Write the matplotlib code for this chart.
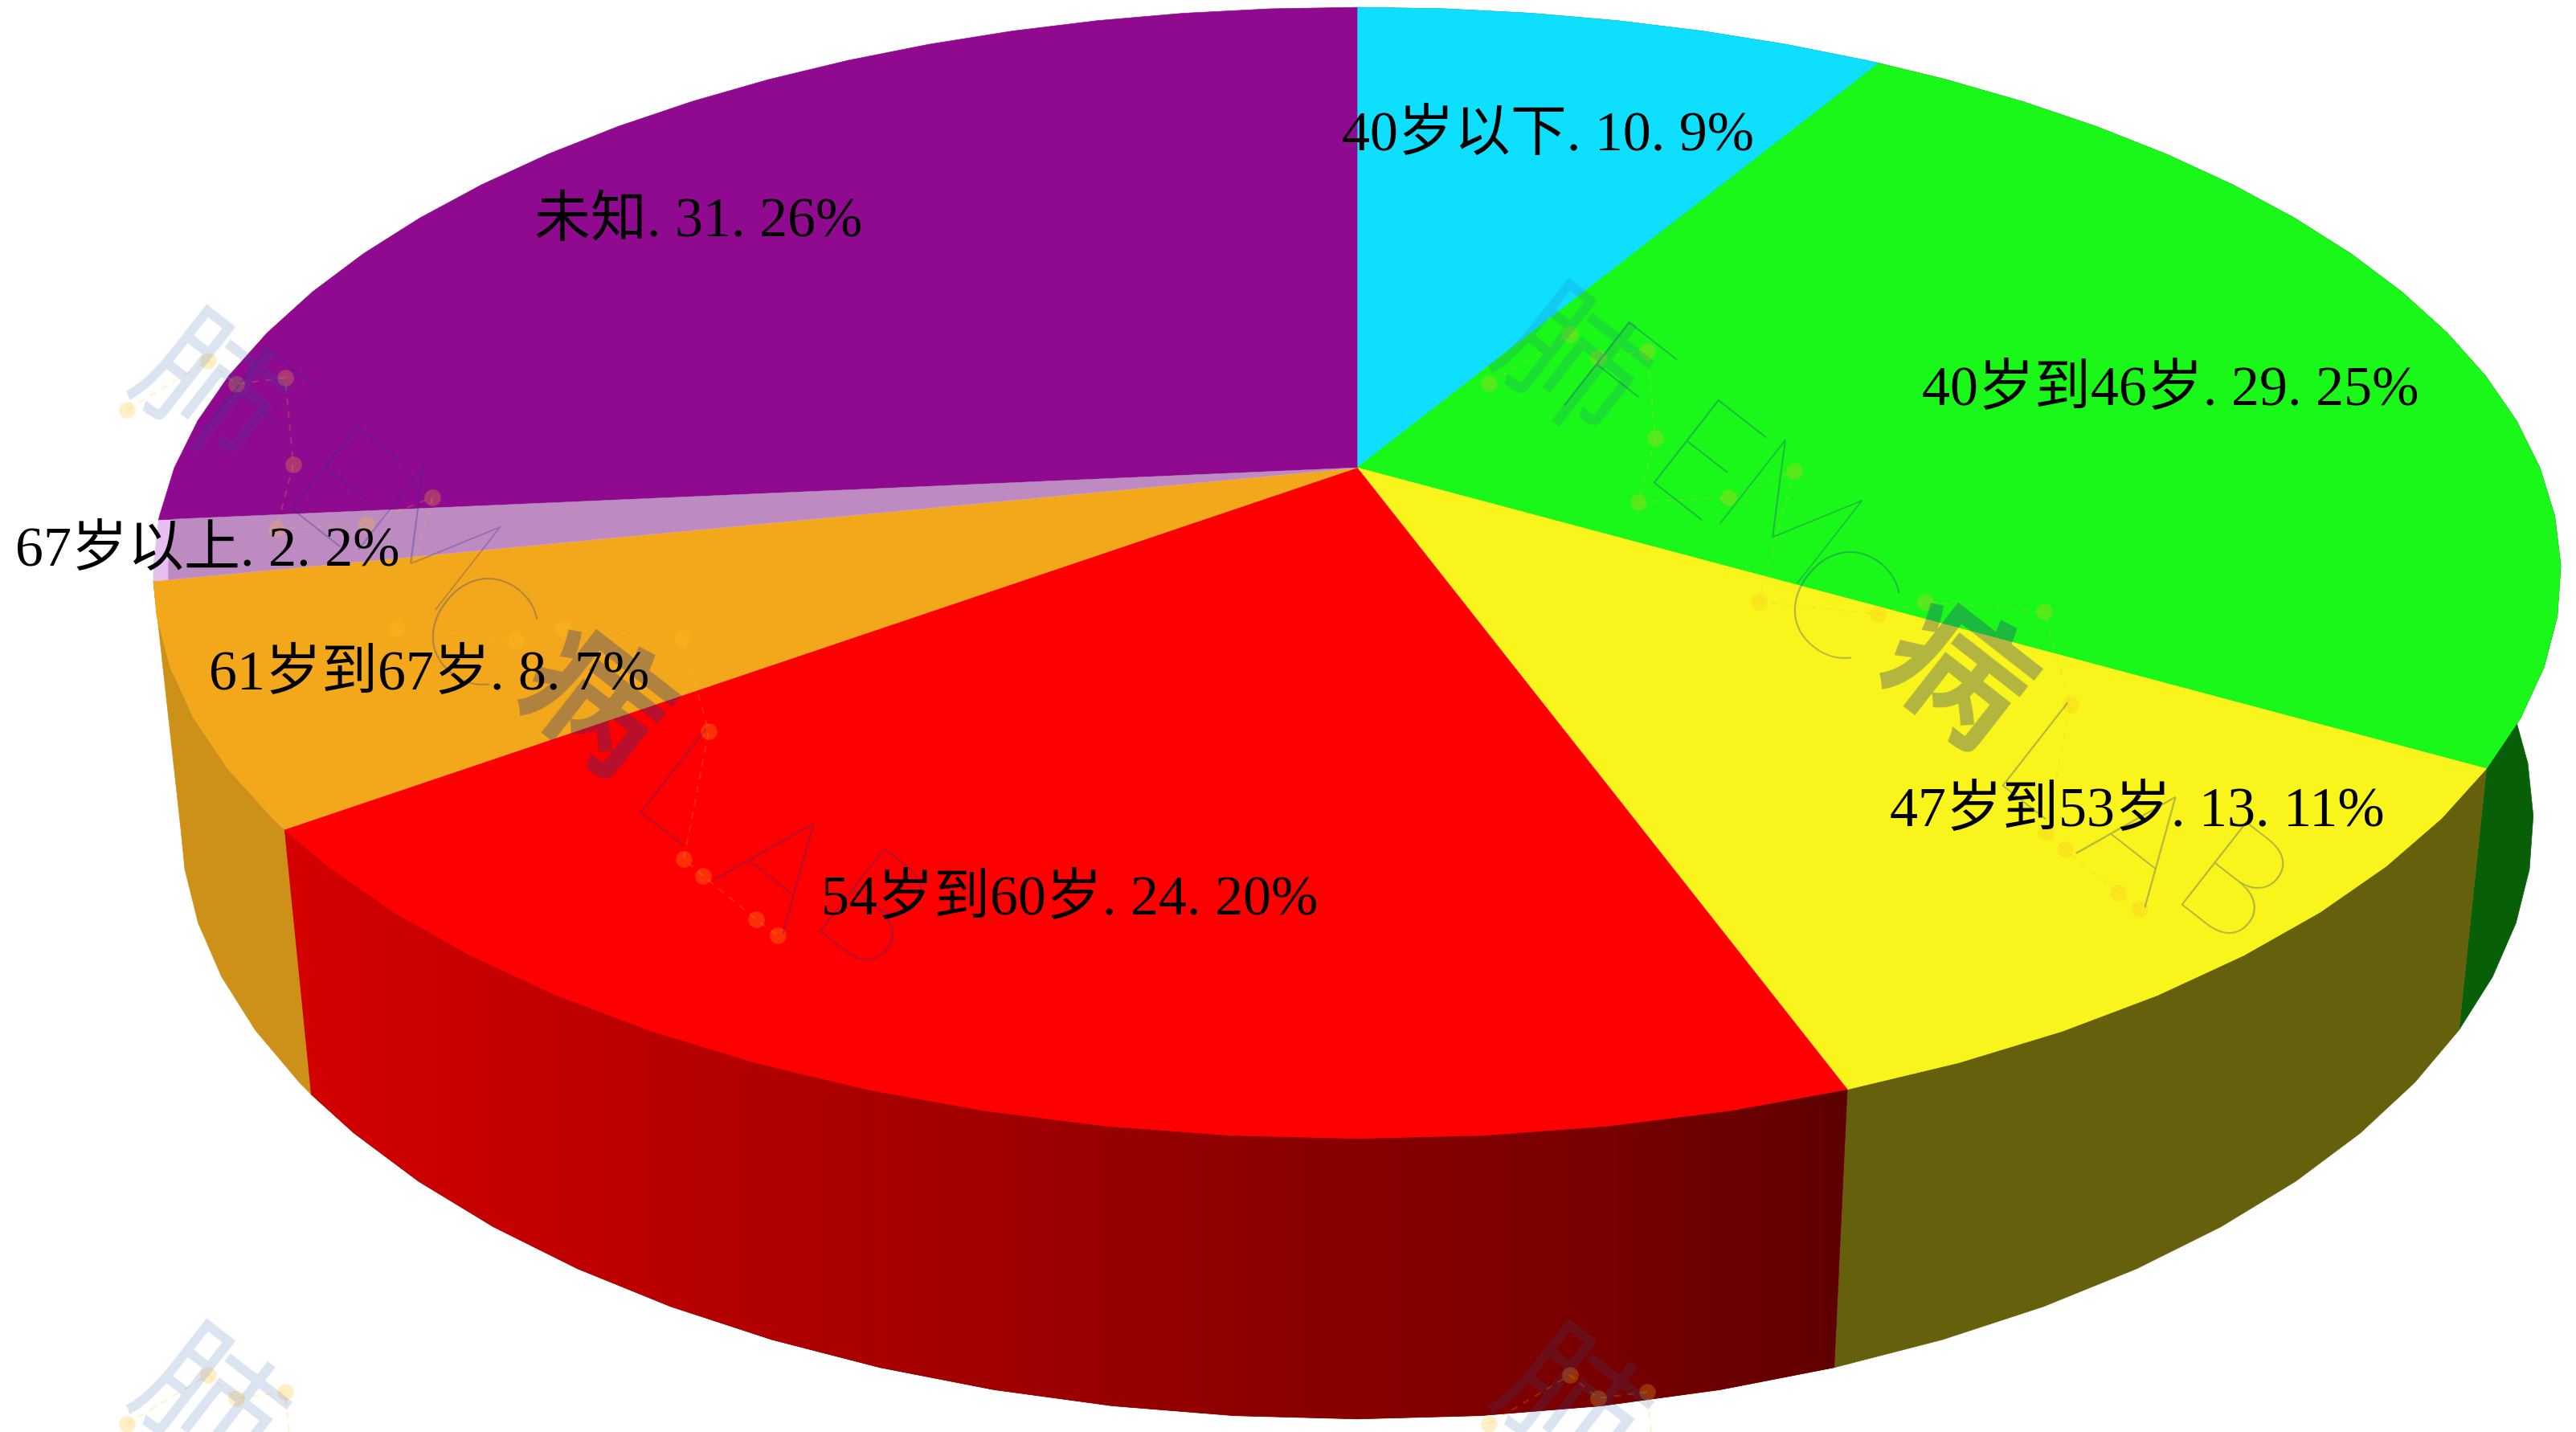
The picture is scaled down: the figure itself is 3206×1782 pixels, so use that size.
import numpy as np
import matplotlib
matplotlib.use("Agg")
import matplotlib.pyplot as plt
from matplotlib.patches import Polygon

# Slices, clockwise from 12 o'clock
categories = ["40岁以下", "40岁到46岁", "47岁到53岁", "54岁到60岁", "61岁到67岁", "67岁以上", "未知"]
counts = [10, 29, 13, 24, 8, 2, 31]
percents = [9, 25, 11, 20, 7, 2, 26]
top_colors = ["#0FDFFF", "#1AF81A", "#F8F41C", "#FF0000", "#F3A81C", "#BD8AC2", "#900A90"]
side_colors = ["#066070", "#085F08", "#65600C", "#8C0000", "#CD9119", None, None]
label_x = [1926, 2701, 2660, 1331, 534, 258, 869]
label_y = [169, 487, 1011, 1121, 841, 686, 277]

# Shading of the red wall along the screen x
red_x = [380, 1100, 1600, 2000, 2200, 2300]
red_v = [212, 168, 140, 120, 105, 92]

# Perspective of the disc (fitted to the picture)
CX, CY = 1689, 583
SX, SY, K = 1472, -571, 0.186
EXTRUDE = 0.02265
VX, VY = 1689, 14312
FACET = 5.0

# Watermark, offsets from its first dot
wm_tiles = [(158, 511), (1853, 478), (158, 1773), (1853, 1773)]
wm_glyphs = ["肺", "F", "E", "M", "C", "病", "L", "A", "B"]
wm_glyph_x = [95, 143, 256, 361, 424, 578, 684, 803, 915]
wm_glyph_y = [-15, 17, 115, 183, 287, 367, 488, 580, 643]
wm_dot_x = [0, 101, 136, 197, 207, 186, 298, 380, 336, 484, 543, 691, 724, 693, 717, 783, 810]
wm_dot_y = [0, -61, -32, -40, 68, 148, 142, 109, 272, 287, 272, 284, 400, 559, 580, 634, 654]


def project(deg, radius=1.0, bottom=False):
    th = np.radians(deg)
    x, y = radius * np.sin(th), radius * np.cos(th)
    w = 1 + K * y
    hx = CX * w + SX * x
    hy = CY + SY * y
    if bottom:
        hx = hx + EXTRUDE * VX
        hy = hy + EXTRUDE * VY
        w = w + EXTRUDE
    return np.column_stack([hx / w, hy / w])


def arc_angles(a0, a1):
    inner = np.arange(np.ceil(a0 / FACET) * FACET, a1, FACET)
    return np.unique(np.concatenate([[a0], inner, [a1]]))


fig = plt.figure(figsize=(32.06, 17.83), dpi=100)
ax = fig.add_axes([0, 0, 1, 1])
ax.set_xlim(0, 3206)
ax.set_ylim(1783, 0)
ax.axis("off")

edges = np.concatenate([[0], np.cumsum(counts)]) / np.sum(counts) * 360

# Walls first, the top covers whatever is behind
for i in range(len(counts)):
    if side_colors[i] is None:
        continue
    ang = arc_angles(edges[i], edges[i + 1])
    wall = np.vstack([project(ang), project(ang, bottom=True)[::-1]])
    patch = Polygon(wall, closed=True, fc=side_colors[i], ec=side_colors[i], lw=0.5, zorder=1)
    ax.add_patch(patch)
    if categories[i] == "54岁到60岁":
        xs = np.arange(300, 2400)
        grad = np.zeros((1, len(xs), 3))
        grad[0, :, 0] = np.interp(xs, red_x, red_v) / 255
        im = ax.imshow(grad, extent=[300, 2400, 1783, 0], aspect="auto", zorder=1.5)
        im.set_clip_path(patch)
ax.set_xlim(0, 3206)
ax.set_ylim(1783, 0)

# Top of the disc
for i in range(len(counts)):
    ang = arc_angles(edges[i], edges[i + 1])
    color = top_colors[i]
    if categories[i] == "67岁以上":
        # the see-through slice is paler where nothing lies behind it
        pts = np.vstack([[CX, CY], project(ang)])
        ax.add_patch(Polygon(pts, closed=True, fc="#E6BEF0", ec="#E6BEF0", lw=0.5, zorder=2))
        pts = np.vstack([[CX, CY], project(ang, radius=0.988)])
        ax.add_patch(Polygon(pts, closed=True, fc=color, ec=color, lw=0.3, zorder=2.1))
    else:
        pts = np.vstack([[CX, CY], project(ang)])
        ax.add_patch(Polygon(pts, closed=True, fc=color, ec=color, lw=0.5, zorder=2))

# Watermark
for ox, oy in wm_tiles:
    dx = ox + np.array(wm_dot_x)
    dy = oy + np.array(wm_dot_y)
    ax.plot(dx, dy, ls=(0, (4, 4)), lw=1.5, color="#FFC020", alpha=0.2, zorder=3)
    ax.scatter(dx, dy, s=220, color="#FFC020", alpha=0.25, lw=0, zorder=3)
    for g, gx, gy in zip(wm_glyphs, wm_glyph_x, wm_glyph_y):
        if oy + gy > 1783:
            continue
        heavy = g == "病"
        ax.text(ox + gx, oy + gy, g, rotation=-38, rotation_mode="anchor", ha="center", va="center",
                fontsize=135 if g not in ("肺", "病") else 125,
                family=["Lato", "Noto Sans CJK SC"], weight="bold" if heavy else "light",
                color="#1E5AA8" if g == "肺" else "#1E328C", alpha=0.16 if g == "肺" else 0.32,
                zorder=3, clip_on=True)

# Labels
for i in range(len(counts)):
    label = f"{categories[i]}. {counts[i]}. {percents[i]}%"
    ax.text(label_x[i], label_y[i], label, ha="center", va="center", fontsize=50.4,
            family=["Liberation Serif", "Noto Sans CJK SC"], color="black", zorder=4)

fig.savefig("out.png", dpi=100)
